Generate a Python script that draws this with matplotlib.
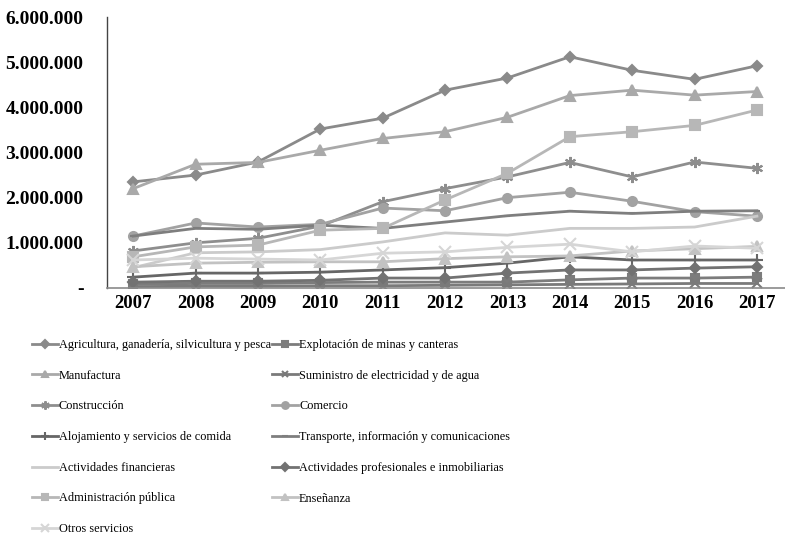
import matplotlib
matplotlib.use("Agg")
import matplotlib.pyplot as plt
from matplotlib.ticker import FuncFormatter, FixedLocator

years = [2007, 2008, 2009, 2010, 2011, 2012, 2013, 2014, 2015, 2016, 2017]

series_names = [
    "Agricultura, ganadería, silvicultura y pesca",
    "Explotación de minas y canteras",
    "Manufactura",
    "Suministro de electricidad y de agua",
    "Construcción",
    "Comercio",
    "Alojamiento y servicios de comida",
    "Transporte, información y comunicaciones",
    "Actividades financieras",
    "Actividades profesionales e inmobiliarias",
    "Administración pública",
    "Enseñanza",
    "Otros servicios",
]

agricultura = [2350000, 2500000, 2790000, 3520000, 3760000, 4380000, 4650000, 5120000, 4820000, 4620000, 4920000]
minas = [80000, 100000, 100000, 120000, 130000, 130000, 130000, 180000, 220000, 220000, 240000]
manufactura = [2200000, 2740000, 2780000, 3050000, 3310000, 3460000, 3780000, 4260000, 4380000, 4270000, 4350000]
electricidad = [30000, 40000, 40000, 50000, 50000, 60000, 70000, 80000, 90000, 100000, 100000]
construccion = [820000, 1000000, 1100000, 1370000, 1910000, 2200000, 2460000, 2780000, 2460000, 2790000, 2650000]
comercio = [1150000, 1440000, 1350000, 1410000, 1770000, 1710000, 2000000, 2120000, 1920000, 1690000, 1590000]
alojamiento = [240000, 330000, 330000, 350000, 400000, 450000, 550000, 690000, 620000, 620000, 620000]
transporte = [1150000, 1320000, 1300000, 1390000, 1320000, 1460000, 1600000, 1700000, 1650000, 1700000, 1710000]
financieras = [450000, 780000, 800000, 850000, 1020000, 1220000, 1170000, 1320000, 1320000, 1350000, 1590000]
profesionales = [130000, 150000, 150000, 170000, 220000, 220000, 330000, 400000, 400000, 440000, 470000]
administracion = [690000, 910000, 950000, 1280000, 1320000, 1950000, 2540000, 3350000, 3460000, 3600000, 3940000]
ensenanza = [470000, 550000, 570000, 580000, 580000, 650000, 690000, 710000, 820000, 870000, 920000]
otros = [620000, 660000, 640000, 620000, 770000, 800000, 900000, 970000, 800000, 930000, 880000]

y_ticks = [0, 1000000, 2000000, 3000000, 4000000, 5000000, 6000000]

all_values = [agricultura, minas, manufactura, electricidad, construccion, comercio,
              alojamiento, transporte, financieras, profesionales, administracion,
              ensenanza, otros]

colors = ["#8a8a8a", "#7c7c7c", "#a9a9a9", "#7a7a7a", "#8e8e8e", "#a2a2a2",
          "#666666", "#7e7e7e", "#cbcbcb", "#727272", "#b7b7b7", "#c2c2c2", "#d6d6d6"]
markers = ["D", "s", "^", "x", (6, 2, 0), "o", "+", "_", "None", "D", "s", "^", "x"]
msizes = [5.5, 5.5, 6.5, 6.5, 8, 6.5, 8, 5, 0, 5.5, 6.5, 6.5, 8]

fig = plt.figure(figsize=(7.85, 5.39), dpi=100)
ax = fig.add_axes([107 / 785, 1 - 288 / 539, (785 - 107) / 785, (288 - 17) / 539])

handles = []
for name, vals, c, m, ms in zip(series_names, all_values, colors, markers, msizes):
    (h,) = ax.plot(years, vals, color=c, marker=m, markersize=ms, linewidth=2.0,
                   markeredgecolor=c, markerfacecolor=c, markeredgewidth=1.5,
                   label=name, solid_joinstyle="round")
    handles.append(h)

ax.set_xlim(2006.58, 2017.45)
ax.set_ylim(0, 6000000)
ax.xaxis.set_major_locator(FixedLocator(years))
ax.yaxis.set_major_locator(FixedLocator(y_ticks))


def fmt(v, pos):
    if v == 0:
        return "-"
    return f"{int(v):,}".replace(",", ".")


ax.yaxis.set_major_formatter(FuncFormatter(fmt))
ax.set_xticklabels([str(y) for y in years])

for s in ["top", "right"]:
    ax.spines[s].set_visible(False)
ax.spines["left"].set_color("#444444")
ax.spines["left"].set_linewidth(1.0)
ax.spines["bottom"].set_color("#8a8a8a")
ax.spines["bottom"].set_linewidth(1.2)

ax.tick_params(axis="both", length=0)
ax.tick_params(axis="y", pad=17)
ax.tick_params(axis="x", pad=5)
for lab in ax.get_yticklabels():
    lab.set_fontfamily("Liberation Serif")
    lab.set_fontweight("bold")
    lab.set_fontsize(14)
for lab in ax.get_xticklabels():
    lab.set_fontfamily("Liberation Serif")
    lab.set_fontweight("bold")
    lab.set_fontsize(13.5)

order = [0, 2, 4, 6, 8, 10, 12, 1, 3, 5, 7, 9, 11]
leg = fig.legend([handles[i] for i in order], [series_names[i] for i in order],
                 ncol=2, loc="upper left", bbox_to_anchor=(32 / 785, 1 - 339 / 539),
                 frameon=False, prop={"family": "Liberation Serif", "size": 8.8},
                 handlelength=2.1, handletextpad=0.1, columnspacing=0.1,
                 labelspacing=1.53, borderpad=0, borderaxespad=0, markerscale=0.75)

fig.savefig("out.png", dpi=100)
